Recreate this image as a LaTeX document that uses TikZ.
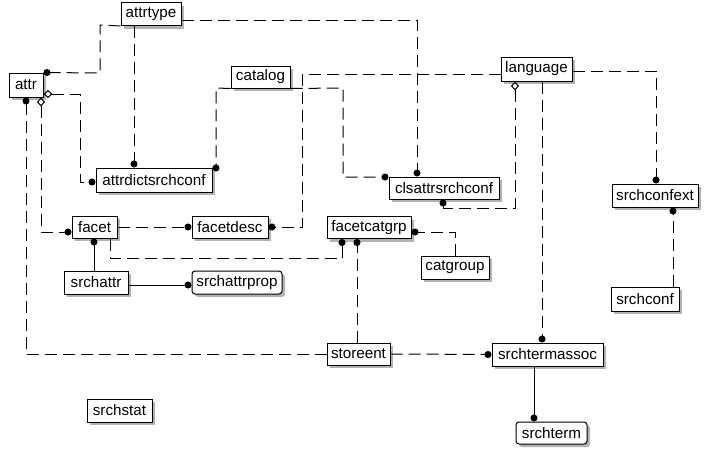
\documentclass[tikz,border=0pt]{standalone}
\usepackage{fontspec}
\setmainfont{Liberation Sans}
\usetikzlibrary{arrows.meta,shadows}
\begin{document}
\begin{tikzpicture}[x=1pt,y=-1pt,
  ent/.style={draw, line width=1pt, fill=white, inner sep=0pt, minimum height=23pt,
    font=\fontsize{15.2}{17}\selectfont,
    drop shadow={shadow xshift=3pt,shadow yshift=-3pt,fill=gray!60,opacity=1}},
  rent/.style={ent, rounded corners=3pt},
  rel/.style={line width=1pt, -{Circle[length=7pt,width=7pt]}},
  nid/.style={rel, dash pattern=on 12pt off 6pt},
  opt/.style={nid, {Diamond[open,length=9pt,width=8pt]}-{Circle[length=7pt,width=7pt]}}]
\useasboundingbox (0,0) rectangle (708,461);
% entities
\node[ent, minimum width=60pt] (attrtype) at (151,14) {attrtype};
\node[ent, minimum width=34pt, minimum height=24pt] (attr) at (26,85) {attr};
\node[ent, minimum width=116pt, minimum height=24pt] (attrdictsrchconf) at (154,180) {attrdictsrchconf};
\node[ent, minimum width=59pt, minimum height=22pt] (catalog) at (260.5,77) {catalog};
\node[ent, minimum width=110pt, minimum height=22pt] (clsattrsrchconf) at (444,188) {clsattrsrchconf};
\node[ent, minimum width=71pt, minimum height=24pt] (language) at (536.5,69) {language};
\node[ent, minimum width=86pt] (srchconfext) at (655,195.5) {srchconfext};
\node[ent, minimum width=68pt, minimum height=24pt] (srchconf) at (645,299) {srchconf};
\node[ent, minimum width=45pt, minimum height=22pt] (facet) at (94.5,227) {facet};
\node[ent, minimum width=76pt, minimum height=22pt] (facetdesc) at (230,227) {facetdesc};
\node[ent, minimum width=64pt] (srchattr) at (96,282.5) {srchattr};
\node[rent, minimum width=90pt] (srchattrprop) at (237,282.5) {srchattrprop};
\node[ent, minimum width=84pt, minimum height=22pt] (facetcatgrp) at (369,227.5) {facetcatgrp};
\node[ent, minimum width=68pt] (catgroup) at (455,267.5) {catgroup};
\node[ent, minimum width=63pt, minimum height=22pt] (storeent) at (358.5,354) {storeent};
\node[ent, minimum width=111pt] (srchtermassoc) at (547.5,354.5) {srchtermassoc};
\node[rent, minimum width=71pt, minimum height=22pt] (srchterm) at (551.5,433) {srchterm};
\node[ent, minimum width=65pt] (srchstat) at (119.5,410.5) {srchstat};
% relationships
\draw[nid] (attrtype.south west) -- (100,25) -- (100,73) -- (attr.north east);
\draw[nid] (attrtype.south -| 134,0) -- (attrdictsrchconf.north -| 134,0);
\draw[nid] (attrtype.east |- 0,20) -- (417,20) -- (clsattrsrchconf.north -| 417,0);
\draw[opt] (attr.east |- 0,94) -- (80,94) -- (80,182) -- (attrdictsrchconf.west |- 0,182);
\draw[opt] (attr.south -| 41,0) -- (41,232) -- (facet.west |- 0,232);
\draw[nid] (storeent.west) -- (26,354) -- (attr.south -| 26,0);
\draw[nid] (catalog.south west) -- (216,88) -- (216,168) -- (attrdictsrchconf.north east);
\draw[nid] (catalog.south east) -- (343,88) -- (343,177) -- (clsattrsrchconf.west |- 0,177);
\draw[nid] (language.west |- 0,74) -- (302,74) -- (302,227) -- (facetdesc.east);
\draw[opt] (language.south -| 515,0) -- (515,208) -- (443,208) -- (clsattrsrchconf.south -| 443,0);
\draw[nid] (language.east |- 0,71) -- (656,71) -- (srchconfext.north -| 656,0);
\draw[nid] (srchconf.north -| 673,0) -- (srchconfext.south -| 673,0);
\draw[nid] (language.south -| 542,0) -- (srchtermassoc.north -| 542,0);
\draw[nid] (facet.east) -- (facetdesc.west);
\draw[rel] (srchattr.north -| 94,0) -- (facet.south -| 94,0);
\draw[rel] (srchattr.east |- 0,285) -- (srchattrprop.west |- 0,285);
\draw[nid] (facet.south -| 110,0) -- (110,258) -- (342,258) -- (facetcatgrp.south -| 342,0);
\draw[nid] (storeent.north -| 357,0) -- (facetcatgrp.south -| 357,0);
\draw[nid] (catgroup.north) -- (455,232) -- (facetcatgrp.east |- 0,232);
\draw[nid] (storeent.east) -- (srchtermassoc.west);
\draw[rel] (srchtermassoc.south -| 534,0) -- (srchterm.north -| 534,0);
\end{tikzpicture}
\end{document}
